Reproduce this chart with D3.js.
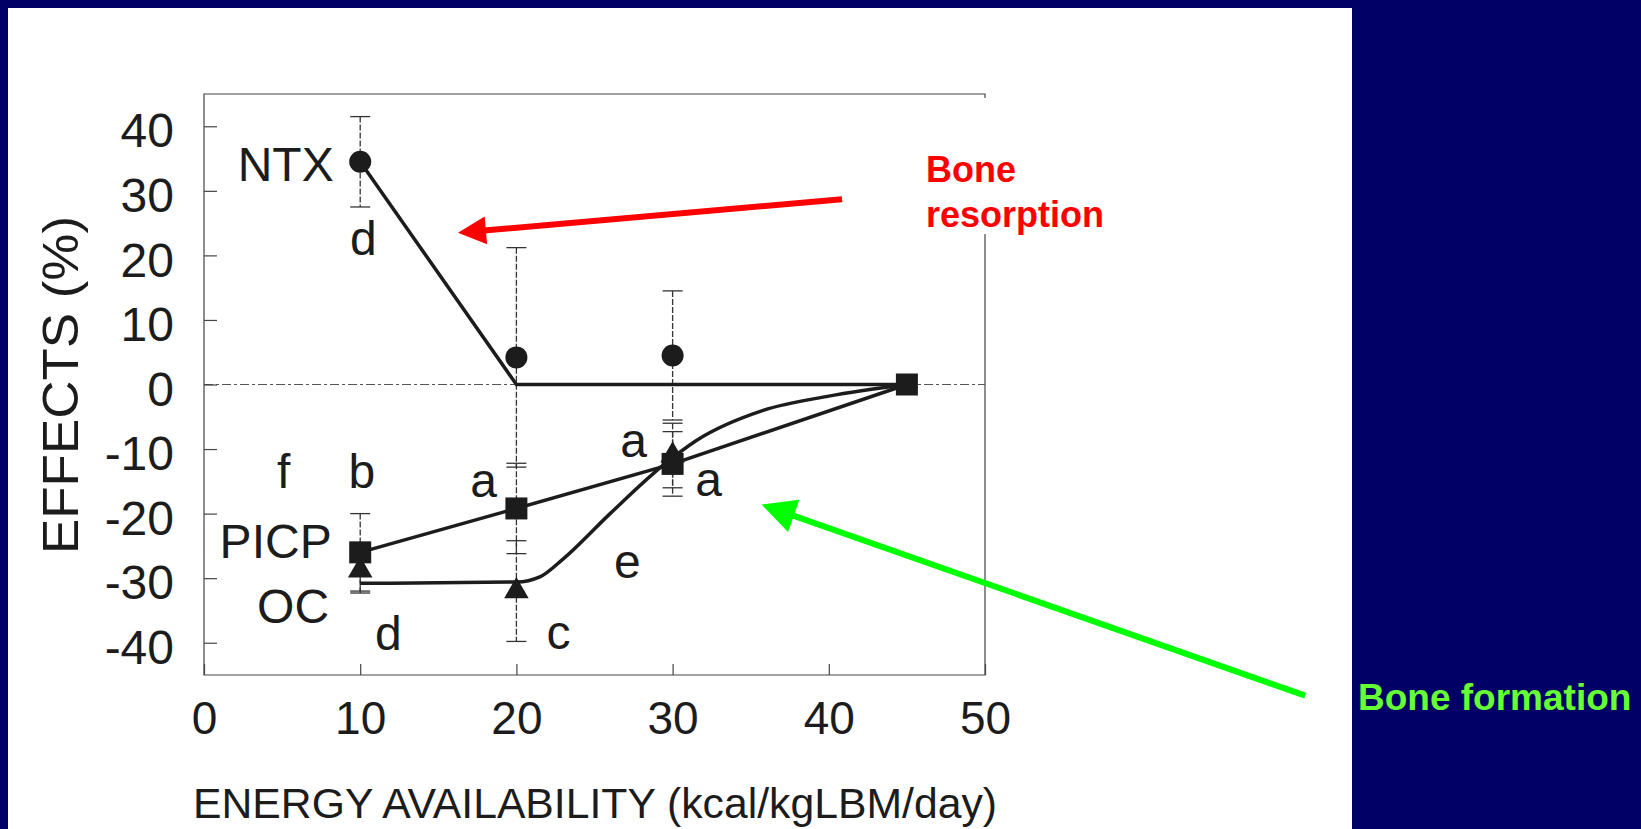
<!DOCTYPE html>
<html>
<head>
<meta charset="utf-8">
<script src="https://cdn.jsdelivr.net/npm/d3@7.9.0/dist/d3.min.js"></script>
<style>
  html, body { margin: 0; padding: 0; background: #000066; }
  svg { display: block; }
  text { font-family: 'Liberation Sans', Arial, Helvetica, sans-serif; }
</style>
</head>
<body>
<svg id="chart" width="1641" height="829"></svg>
<script>
// axis ticks
const xTicks = [0, 10, 20, 30, 40, 50];
const yTicks = [40, 30, 20, 10, 0, -10, -20, -30, -40];

// NTX (circles), mean +/- error, and the fitted broken line
const ntxX = [10, 20, 30];
const ntxMean = [34.5, 4.2, 4.5];
const ntxErr = [7, 17, 10];
const ntxFitX = [10, 20, 45];
const ntxFitY = [34.5, 0, 0];

// PICP (squares)
const picpX = [10, 20, 30, 45];
const picpMean = [-26, -19.2, -12.3, 0];
const picpErr = [6, 7, 5, 0];

// OC (triangles) and its smooth fitted curve
const ocX = [10, 20, 30];
const ocMean = [-28.8, -32, -11];
const ocErr = [3.5, 7.8, 5];
const ocFitX = [10, 20, 21.5, 23, 26, 29.4, 31.5, 35.8, 40, 45];
const ocFitY = [-30.8, -30.6, -29.8, -27, -20, -12.5, -8.7, -4, -1.8, 0];

// significance letters (in data units)
const letters = ['d', 'f', 'b', 'a', 'a', 'a', 'e', 'c', 'd'];
const letterX = [10.2, 5.1, 10.1, 17.9, 27.5, 32.3, 27.1, 22.7, 11.8];
const letterY = [20.0, -16.0, -16.1, -17.5, -11.3, -17.2, -30.0, -40.9, -41.2];

// series names
const seriesNames = ['NTX', 'PICP', 'OC'];
const seriesNameX = [8.3, 1.0, 3.4];
const seriesNameY = [31.6, -26.8, -36.9];

// annotation arrows: [from, to] in data units
const redArrow = [[40.85, 28.7], [16.26, 23.5]];
const greenArrow = [[70.5, -48.2], [35.7, -18.6]];

const svg = d3.select('#chart');
const W = 1641, H = 829;

// white slide panel
svg.append('rect').attr('x', 8).attr('y', 8).attr('width', 1344).attr('height', H - 8).attr('fill', '#fff');

const x = d3.scaleLinear().domain([0, 50]).range([204, 985]);
const y = d3.scaleLinear().domain([-45, 45]).range([675, 94]);

const ink = '#1c1c1c';

// frame
const frame = svg.append('g').attr('stroke', '#444').attr('stroke-width', 1.2).attr('fill', 'none');
frame.append('path').attr('d', `M${x(0)},${y(45)}H${x(50)}V${y(-45)}H${x(0)}Z`);

// zero reference line
svg.append('line')
  .attr('x1', x(0)).attr('x2', x(50)).attr('y1', y(0)).attr('y2', y(0))
  .attr('stroke', '#555').attr('stroke-width', 1.2).attr('stroke-dasharray', '9 3 3 3');

// axes
const yAxis = svg.append('g')
  .attr('transform', `translate(${x(0)},0)`)
  .call(d3.axisLeft(y).tickValues(yTicks).tickSize(-13).tickPadding(30));
yAxis.select('.domain').remove();
yAxis.selectAll('line').attr('stroke', '#444').attr('stroke-width', 1.2);
yAxis.selectAll('text')
  .attr('font-size', 48).attr('fill', ink).attr('dy', '0.43em')
  .style('font-family', "'Liberation Sans', Arial, sans-serif")
  .text(d => d < 0 ? '-' + Math.abs(d) : d);

const xAxis = svg.append('g')
  .attr('transform', `translate(0,${y(-45)})`)
  .call(d3.axisBottom(x).tickValues(xTicks).tickSize(-11).tickPadding(26));
xAxis.select('.domain').remove();
xAxis.selectAll('line').attr('stroke', '#444').attr('stroke-width', 1.2);
xAxis.selectAll('text')
  .attr('font-size', 46).attr('fill', ink)
  .style('font-family', "'Liberation Sans', Arial, sans-serif");

// axis titles
svg.append('text')
  .attr('x', 595).attr('y', 818)
  .attr('text-anchor', 'middle').attr('font-size', 42).attr('fill', ink)
  .attr('textLength', 804).attr('lengthAdjust', 'spacingAndGlyphs')
  .text('ENERGY AVAILABILITY (kcal/kgLBM/day)');

svg.append('text')
  .attr('transform', 'translate(78,385) rotate(-90)')
  .attr('text-anchor', 'middle').attr('font-size', 50).attr('fill', ink)
  .attr('textLength', 338).attr('lengthAdjust', 'spacingAndGlyphs')
  .text('EFFECTS (%)');

// error bars
function errorBars(xs, means, errs) {
  const g = svg.append('g').attr('stroke', '#333').attr('stroke-width', 1.3);
  xs.forEach((xv, i) => {
    if (!errs[i]) return;
    const top = y(means[i] + errs[i]), bot = y(means[i] - errs[i]), cx = x(xv);
    g.append('line').attr('x1', cx).attr('x2', cx).attr('y1', top).attr('y2', bot)
      .attr('stroke-dasharray', '6 2');
    g.append('line').attr('x1', cx - 10).attr('x2', cx + 10).attr('y1', top).attr('y2', top);
    g.append('line').attr('x1', cx - 10).attr('x2', cx + 10).attr('y1', bot).attr('y2', bot);
  });
}
errorBars(ntxX, ntxMean, ntxErr);
errorBars(picpX, picpMean, picpErr);
errorBars(ocX, ocMean, ocErr);

// fitted lines
const lineLinear = d3.line().x(d => x(d[0])).y(d => y(d[1]));
const lineSmooth = d3.line().x(d => x(d[0])).y(d => y(d[1])).curve(d3.curveMonotoneX);

svg.append('path').datum(d3.zip(ntxFitX, ntxFitY)).attr('d', lineLinear)
  .attr('fill', 'none').attr('stroke', ink).attr('stroke-width', 3.5);
svg.append('path').datum(d3.zip(picpX, picpMean)).attr('d', lineLinear)
  .attr('fill', 'none').attr('stroke', ink).attr('stroke-width', 3.5);
svg.append('path').datum(d3.zip(ocFitX, ocFitY)).attr('d', lineSmooth)
  .attr('fill', 'none').attr('stroke', ink).attr('stroke-width', 3.5);

// markers
svg.append('g').selectAll('path').data(d3.zip(ocX, ocMean)).join('path')
  .attr('transform', d => `translate(${x(d[0])},${y(d[1])})`)
  .attr('d', d3.symbol(d3.symbolTriangle, 260)).attr('fill', ink);
svg.append('g').selectAll('rect').data(d3.zip(picpX, picpMean)).join('rect')
  .attr('x', d => x(d[0]) - 11).attr('y', d => y(d[1]) - 11)
  .attr('width', 22).attr('height', 22).attr('fill', ink);
svg.append('g').selectAll('circle').data(d3.zip(ntxX, ntxMean)).join('circle')
  .attr('cx', d => x(d[0])).attr('cy', d => y(d[1])).attr('r', 11).attr('fill', ink);

// letters and series names
svg.append('g').selectAll('text').data(d3.zip(letters, letterX, letterY)).join('text')
  .attr('x', d => x(d[1])).attr('y', d => y(d[2]))
  .attr('text-anchor', 'middle').attr('font-size', 48).attr('fill', ink)
  .text(d => d[0]);

svg.append('g').selectAll('text').data(d3.zip(seriesNames, seriesNameX, seriesNameY)).join('text')
  .attr('x', d => x(d[1])).attr('y', d => y(d[2]))
  .attr('text-anchor', (d, i) => i === 0 ? 'end' : 'start')
  .attr('font-size', 48).attr('fill', ink)
  .text(d => d[0]);

// annotation arrows
function arrow([from, to], color, width, headLen, headW) {
  const [x0, y0] = [x(from[0]), y(from[1])];
  const [x1, y1] = [x(to[0]), y(to[1])];
  const len = Math.hypot(x1 - x0, y1 - y0);
  const ux = (x1 - x0) / len, uy = (y1 - y0) / len;
  const bx = x1 - ux * headLen, by = y1 - uy * headLen;
  svg.append('line').attr('x1', x0).attr('y1', y0).attr('x2', bx + ux * 2).attr('y2', by + uy * 2)
    .attr('stroke', color).attr('stroke-width', width);
  const px = -uy * headW / 2, py = ux * headW / 2;
  svg.append('path')
    .attr('d', `M${x1},${y1}L${bx + px},${by + py}L${bx - px},${by - py}Z`)
    .attr('fill', color);
}

// text box that hides the top of the right frame
svg.append('rect').attr('x', 918).attr('y', 98).attr('width', 200).attr('height', 136).attr('fill', '#fff');
svg.append('text').attr('x', 926).attr('y', 182)
  .attr('font-size', 36).attr('font-weight', 'bold').attr('fill', '#ff0000').text('Bone');
svg.append('text').attr('x', 926).attr('y', 227)
  .attr('font-size', 36).attr('font-weight', 'bold').attr('fill', '#ff0000').text('resorption');

arrow(redArrow, '#ff0000', 6, 28, 28);
arrow(greenArrow, '#00ff00', 6, 34, 34);

svg.append('text').attr('x', 1358).attr('y', 710)
  .attr('font-size', 37).attr('font-weight', 'bold').attr('fill', '#66ff33').text('Bone formation');
</script>
</body>
</html>
